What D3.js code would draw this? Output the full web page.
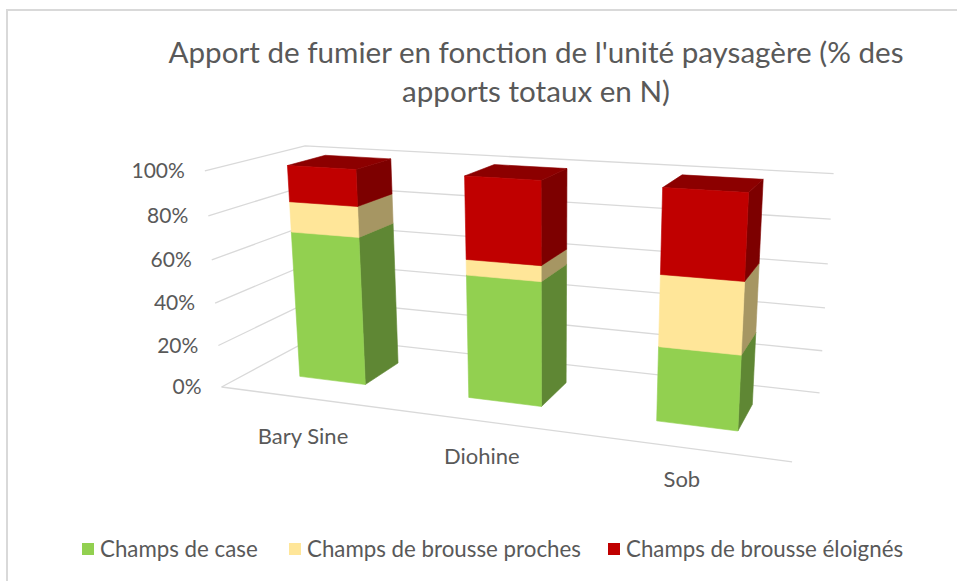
<!DOCTYPE html>
<html>
<head>
<meta charset="utf-8">
<script src="https://cdn.jsdelivr.net/npm/d3@7"></script>
<style>
  body { margin: 0; background: #fff; }
  text { font-family: Lato, "Open Sans", sans-serif; fill: #595959; }
</style>
</head>
<body>
<script>
// chart data
const categories = ["Bary Sine", "Diohine", "Sob"];
const seriesNames = ["Champs de case", "Champs de brousse proches", "Champs de brousse éloignés"];
const champsCase = [69.5, 56.5, 33];
const broussProches = [14, 7, 31];
const broussEloignes = [16.5, 36.5, 36];
const yTicks = [0, 20, 40, 60, 80, 100];
const colors = ["#92D050", "#FFE699", "#C00000"];

const width = 957, height = 581;

// corners of the 3d plot box as seen on screen: [x(cat units), y(0..1), z(depth 0..1), px, py]
// used to fit a projective camera
const calib = [
  [0, 1, 0, 205, 171], [0, 0.8, 0, 208, 216], [0, 0.6, 0, 212, 259],
  [0, 0.4, 0, 215, 303], [0, 0.2, 0, 218, 346], [0, 0, 0, 222, 387],
  [0, 1, 1, 305, 146],
  [3, 1, 1, 833, 174], [3, 0.8, 1, 831, 219], [3, 0.6, 1, 828, 264],
  [3, 0.4, 1, 826, 307], [3, 0.2, 1, 822, 351], [3, 0, 1, 819, 393],
  [3, 0, 0, 792, 462]
];

// least squares DLT, p34 = 1
function fitCamera(pts) {
  let N = [], r = [];
  for (let i = 0; i < 11; i++) { N.push(new Array(11).fill(0)); r.push(0); }
  function addRow(row, b) {
    for (let i = 0; i < 11; i++) {
      r[i] += row[i] * b;
      for (let j = 0; j < 11; j++) N[i][j] += row[i] * row[j];
    }
  }
  for (let p of pts) {
    let X = p[0], Y = p[1], Z = p[2];
    let u = (p[3] - 500) / 300, v = (p[4] - 300) / 300;
    addRow([X, Y, Z, 1, 0, 0, 0, 0, -u * X, -u * Y, -u * Z], u);
    addRow([0, 0, 0, 0, X, Y, Z, 1, -v * X, -v * Y, -v * Z], v);
  }
  // gaussian elimination
  let n = 11;
  for (let c = 0; c < n; c++) {
    let best = c;
    for (let k = c + 1; k < n; k++) if (Math.abs(N[k][c]) > Math.abs(N[best][c])) best = k;
    [N[c], N[best]] = [N[best], N[c]];
    [r[c], r[best]] = [r[best], r[c]];
    for (let k = c + 1; k < n; k++) {
      let f = N[k][c] / N[c][c];
      for (let j = c; j < n; j++) N[k][j] -= f * N[c][j];
      r[k] -= f * r[c];
    }
  }
  let sol = new Array(n).fill(0);
  for (let c = n - 1; c >= 0; c--) {
    let s = r[c];
    for (let j = c + 1; j < n; j++) s -= N[c][j] * sol[j];
    sol[c] = s / N[c][c];
  }
  return sol;
}

const P = fitCamera(calib);
function project(X, Y, Z) {
  let w = P[8] * X + P[9] * Y + P[10] * Z + 1;
  let u = (P[0] * X + P[1] * Y + P[2] * Z + P[3]) / w;
  let v = (P[4] * X + P[5] * Y + P[6] * Z + P[7]) / w;
  return [u * 300 + 500, v * 300 + 300];
}

// scales in world units
const x = d3.scaleBand().domain(categories).range([0, 3]).paddingInner(0.6).paddingOuter(0.3);
const y = d3.scaleLinear().domain([0, 100]).range([0, 1]);
const depth = d3.scaleBand().domain(["d"]).range([0, 1]).paddingInner(0.6).paddingOuter(0.3);

const svg = d3.select("body").append("svg").attr("width", width).attr("height", height);

// chart border (only top/left fall inside the picture)
svg.append("rect").attr("x", 7).attr("y", 10).attr("width", 1000).attr("height", 700)
  .attr("fill", "none").attr("stroke", "#d9d9d9").attr("stroke-width", 2);

// title
const title = svg.append("text").attr("text-anchor", "middle").attr("font-size", 29.6);
title.append("tspan").attr("x", 536).attr("y", 63).text("Apport de fumier en fonction de l'unité paysagère (% des");
title.append("tspan").attr("x", 536).attr("y", 102).text("apports totaux en N)");

const line = d3.line();
const grid = svg.append("g").attr("fill", "none").attr("stroke", "#d9d9d9").attr("stroke-width", 1.3);

// gridlines on left wall and back wall
yTicks.forEach(t => {
  let v = y(t);
  grid.append("path").attr("d", line([project(0, v, 0), project(0, v, 1), project(3, v, 1)]));
});
// floor front edge
grid.append("path").attr("d", line([project(0, 0, 0), project(3, 0, 0)]));

// y labels
svg.append("g").selectAll("text").data(yTicks).join("text")
  .attr("x", d => project(0, y(d), 0)[0] - 20)
  .attr("y", d => project(0, y(d), 0)[1])
  .attr("dy", "0.35em")
  .attr("text-anchor", "end")
  .attr("font-size", 21)
  .text(d => d + "%");

// category labels, under the front edge
svg.append("g").selectAll("text").data(categories).join("text")
  .attr("x", d => project(x(d) + x.bandwidth() / 2, 0, 0)[0] - 1)
  .attr("y", d => {
    let p = project(x(d) + x.bandwidth() / 2, 0, 0);
    return p[1] + 38 - (p[0] - 317) * 0.018;
  })
  .attr("dy", "0.35em")
  .attr("text-anchor", "middle")
  .attr("font-size", 22)
  .text(d => d);

// stacked bars
const rows = categories.map((c, i) => ({
  cat: c, s0: champsCase[i], s1: broussProches[i], s2: broussEloignes[i]
}));
const stacked = d3.stack().keys(["s0", "s1", "s2"])(rows);

function shade(c, k) {
  let col = d3.rgb(c);
  return d3.rgb(col.r * k, col.g * k, col.b * k).formatHex();
}

const z0 = depth("d"), z1 = depth("d") + depth.bandwidth();
const bars = svg.append("g");
categories.forEach((cat, i) => {
  let x0 = x(cat), x1 = x(cat) + x.bandwidth();
  stacked.forEach((layer, s) => {
    let ya = y(layer[i][0]), yb = y(layer[i][1]);
    let g = bars.append("g");
    let faces = [
      { pts: [[x1, ya, z0], [x1, ya, z1], [x1, yb, z1], [x1, yb, z0]], col: shade(colors[s], 0.65) },
      { pts: [[x0, yb, z0], [x1, yb, z0], [x1, yb, z1], [x0, yb, z1]], col: shade(colors[s], 0.73) },
      { pts: [[x0, ya, z0], [x1, ya, z0], [x1, yb, z0], [x0, yb, z0]], col: colors[s] }
    ];
    faces.forEach(f => {
      g.append("path")
        .attr("d", line(f.pts.map(p => project(p[0], p[1], p[2]))) + "Z")
        .attr("fill", f.col).attr("stroke", f.col).attr("stroke-width", 0.6)
        .attr("stroke-linejoin", "round");
    });
  });
});

// legend
const legendX = [82, 289, 608];
const legend = svg.append("g");
seriesNames.forEach((name, i) => {
  legend.append("rect").attr("x", legendX[i]).attr("y", 543).attr("width", 12).attr("height", 12)
    .attr("fill", colors[i]);
  legend.append("text").attr("x", legendX[i] + 18).attr("y", 549).attr("dy", "0.35em")
    .attr("font-size", 22.3).text(name);
});
</script>
</body>
</html>
